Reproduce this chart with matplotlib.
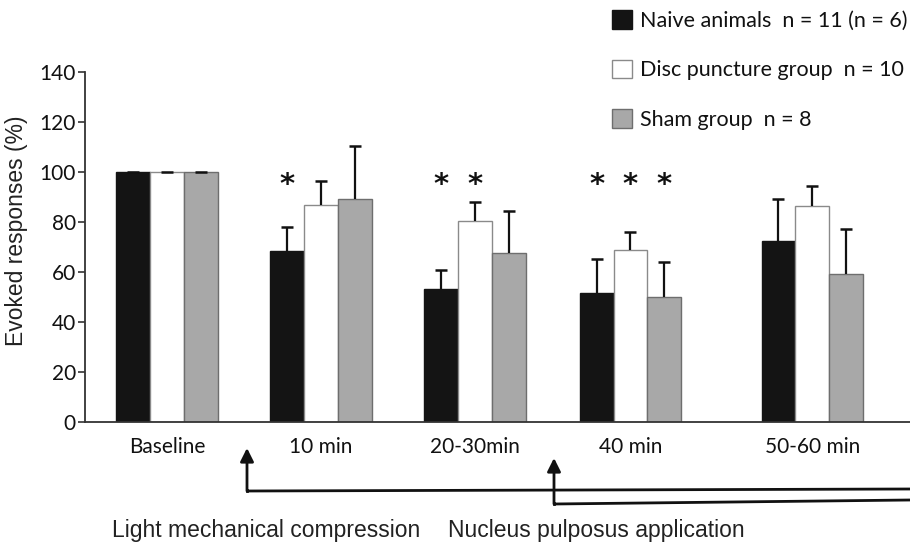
import matplotlib
matplotlib.use("Agg")
import matplotlib.pyplot as plt
from matplotlib.patches import FancyArrowPatch
from matplotlib.lines import Line2D
import numpy as np

# ---------------- data ----------------
categories = ["Baseline", "10 min", "20-30min", "40 min", "50-60 min"]
series_names = ["Naive animals  n = 11 (n = 6)",
                "Disc puncture group  n = 10",
                "Sham group  n = 8"]
naive_vals = [100, 68.4, 53.2, 51.6, 72.3]
naive_err = [0, 9.4, 7.5, 13.4, 16.7]
disc_vals = [100, 86.8, 80.2, 68.6, 86.3]
disc_err = [0, 9.4, 7.6, 7.3, 7.9]
sham_vals = [100, 89.1, 67.4, 50.0, 59.1]
sham_err = [0, 21.1, 17.0, 13.8, 18.0]
# significance stars: (category index, series index)
stars = [(1, 0), (2, 0), (2, 1), (3, 0), (3, 1), (3, 2)]
yticks = [0, 20, 40, 60, 80, 100, 120, 140]
ylabel = "Evoked responses (%)"
annot_labels = ["Light mechanical compression", "Nucleus pulposus application"]

# ---------------- layout / style ----------------
W, H = 910, 545
group_pos = np.array([0, 1, 2, 3.01, 4.19])
bar_w = 0.219
face = ["#141414", "#ffffff", "#a8a8a8"]
edge = ["#141414", "#8a8a8a", "#6e6e6e"]
tick_font = "Lato"
label_font = "Liberation Sans"

fig = plt.figure(figsize=(W / 100, H / 100), dpi=100)
ax = fig.add_axes([85 / W, (H - 422) / H, (W - 85) / W, 350.3 / H])

vals = [naive_vals, disc_vals, sham_vals]
errs = [naive_err, disc_err, sham_err]
handles = []
for i in range(3):
    xs = group_pos + (i - 1) * bar_w
    b = ax.bar(xs, vals[i], width=bar_w, color=face[i], edgecolor=edge[i],
               linewidth=1.0, label=series_names[i], zorder=2)
    handles.append(b)
    eb = ax.errorbar(xs, vals[i], yerr=[np.zeros(len(errs[i])), errs[i]],
                     fmt="none", ecolor="#111111", elinewidth=1.6, capsize=4,
                     capthick=1.8, zorder=3)
    caps = eb[1]
    if len(caps) == 2:
        caps[0].set_visible(False)

for ci, si in stars:
    x = group_pos[ci] + (si - 1) * bar_w
    ax.text(x, 91.5, "*", ha="center", va="baseline", fontsize=21,
            fontweight="bold", family="DejaVu Sans", color="#111111")

ax.set_xlim(-0.532, 4.825)
ax.set_ylim(0, 140)
ax.set_yticks(yticks)
ax.set_yticklabels([str(t) for t in yticks], family=tick_font, fontsize=15,
                   color="#111111")
ax.set_xticks(group_pos)
ax.set_xticklabels(categories, family=tick_font, fontsize=15, color="#111111")
ax.tick_params(axis="x", length=0, pad=11)
ax.tick_params(axis="y", length=5, width=1.2, direction="out", pad=1.5,
               color="#333333")
for s in ["top", "right"]:
    ax.spines[s].set_visible(False)
for s in ["left", "bottom"]:
    ax.spines[s].set_linewidth(1.3)
    ax.spines[s].set_color("#333333")
ax.spines["bottom"].set_clip_on(False)

fig.text(17 / W, 1 - 231 / H, ylabel, rotation=90, ha="center", va="center",
         family=label_font, fontsize=16.5, color="#222222")

leg = fig.legend(handles=handles, loc="upper left",
                 bbox_to_anchor=(612 / W, 1 - 10 / H),
                 frameon=False, prop={"family": tick_font, "size": 15.5},
                 handlelength=0.95, handleheight=0.95, handletextpad=0.35,
                 labelspacing=1.35, borderpad=0, borderaxespad=0)
for t in leg.get_texts():
    t.set_color("#111111")


def px(x, y):
    return (x / W, 1 - y / H)


# arrows and lines below the axis (figure pixel layout)
for (xa, ya_tip, ya_base, y_right) in [(247, 448, 491, 489), (554, 458, 504, 500)]:
    arr = FancyArrowPatch(px(xa, ya_base), px(xa, ya_tip),
                          transform=fig.transFigure, arrowstyle="-|>",
                          mutation_scale=20, linewidth=2.0, color="#111111",
                          shrinkA=0, shrinkB=0)
    fig.add_artist(arr)
    fig.add_artist(Line2D([xa / W, 1.0], [1 - ya_base / H, 1 - y_right / H],
                          transform=fig.transFigure, color="#111111",
                          linewidth=2.0, solid_capstyle="butt"))
    fig.add_artist(Line2D([xa / W, xa / W], [1 - ya_base / H, 1 - (ya_base - 1) / H],
                          transform=fig.transFigure, color="#111111",
                          linewidth=2.0))

fig.text(112 / W, 1 - 530 / H, annot_labels[0], ha="left", va="center",
         family=label_font, fontsize=16.5, color="#222222")
fig.text(448 / W, 1 - 530 / H, annot_labels[1], ha="left", va="center",
         family=label_font, fontsize=16.5, color="#222222")

fig.savefig("out.png", dpi=100)
